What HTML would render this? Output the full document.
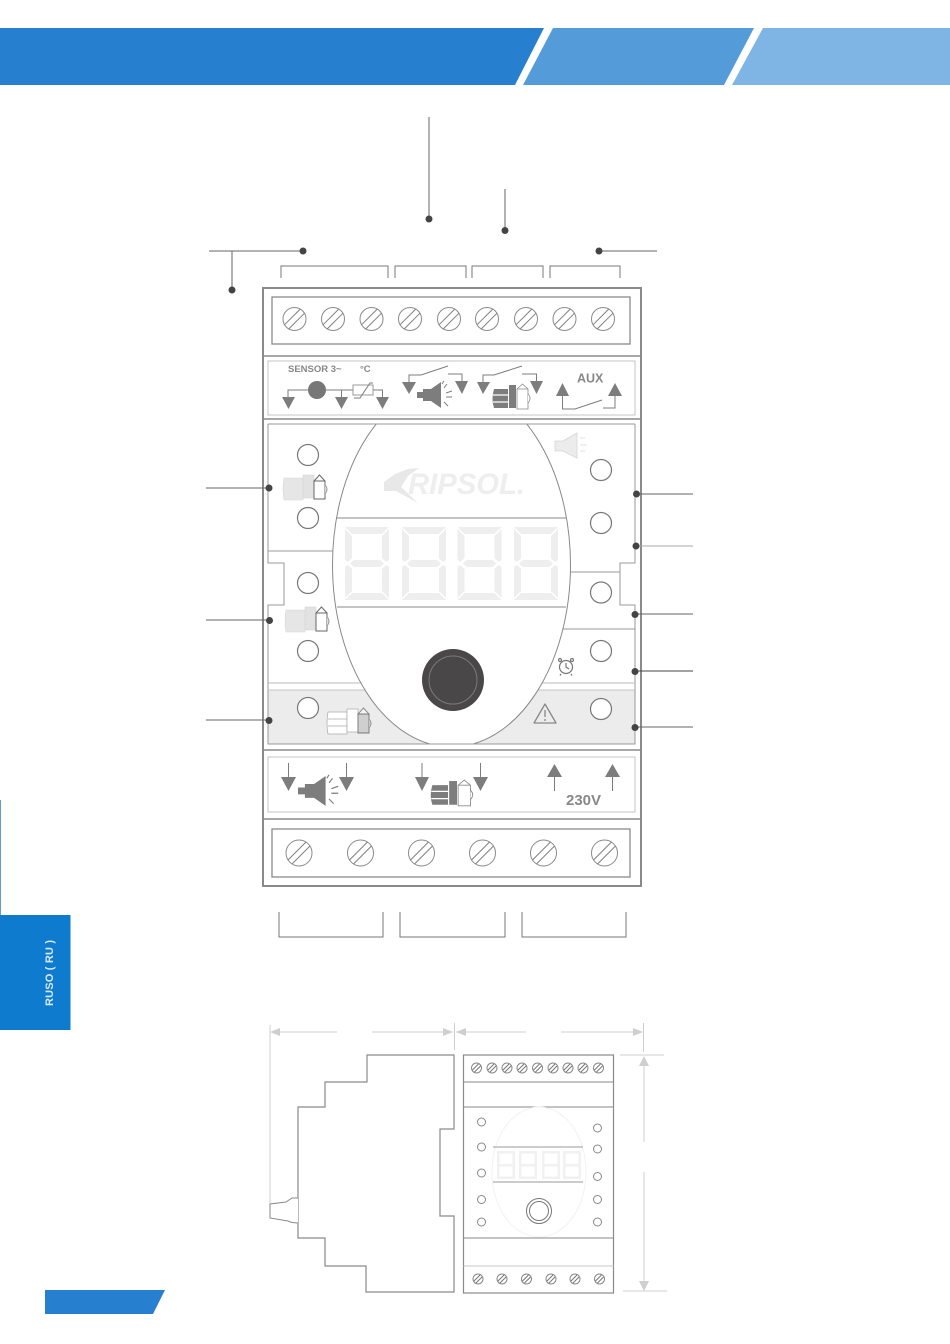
<!DOCTYPE html>
<html>
<head>
<meta charset="utf-8">
<style>
html,body{margin:0;padding:0;background:#fff;}
svg{display:block;}
text{font-family:"Liberation Sans",sans-serif;}
</style>
</head>
<body>
<svg width="950" height="1344" viewBox="0 0 950 1344" xmlns="http://www.w3.org/2000/svg">
<defs>
  <g id="screw">
    <circle r="11.5" fill="#fff" stroke="#8a8a8a" stroke-width="1"/>
    <path d="M-9.900,5.700 L5.700,-9.900 M-5.700,9.900 L9.900,-5.700" stroke="#808080" stroke-width="1" fill="none"/>
  </g>
  <g id="screwL">
    <circle r="13" fill="#fff" stroke="#8a8a8a" stroke-width="1"/>
    <path d="M-11,7 L7,-11 M-7,11 L11,-7" stroke="#808080" stroke-width="1" fill="none"/>
  </g>
  <g id="screwS">
    <circle r="5" fill="#fff" stroke="#888" stroke-width="1"/>
    <path d="M-4,2 L2,-4 M-2,4 L4,-2" stroke="#777" stroke-width="1" fill="none"/>
  </g>
  <g id="digit" fill="#eeeeee">
    <polygon points="0,0 44,0 37,7 7,7"/>
    <polygon points="0,2 7,9 7,31 3,35 0,33"/>
    <polygon points="44,2 37,9 37,31 41,35 44,33"/>
    <polygon points="5,36.5 9,33 35,33 39,36.5 35,40 9,40"/>
    <polygon points="0,40 3,38 7,42 7,64 0,71"/>
    <polygon points="44,40 41,38 37,42 37,64 44,71"/>
    <polygon points="7,66 37,66 44,73 0,73"/>
  </g>
  <g id="digitS" fill="#f1f1f1">
    <rect x="0" y="0" width="18" height="2.5"/><rect x="0" y="0" width="2.5" height="28"/><rect x="15.5" y="0" width="2.5" height="28"/><rect x="0" y="13" width="18" height="2.5"/><rect x="0" y="25.5" width="18" height="2.5"/>
  </g>
  <g id="speaker">
    <path d="M0,10 h6 v-3 h8 l10,-7 v26 l-10,-7 h-8 v-3 h-6 z" fill="#7d7d7d"/>
    <path d="M27,6 l3,-4 M29,11 l6,-2 M29,15 h6 M27,20 l4,4 M25,2 l2,-3" stroke="#7d7d7d" stroke-width="1" fill="none"/>
  </g>
  <g id="pumpD">
    <path d="M3,6 h14 v19 h-14 q-3,-9 0,-19z" fill="#7d7d7d"/>
    <path d="M2,12 h15 M2,19 h15" stroke="#fff" stroke-width="1.2"/>
    <rect x="18" y="2" width="7" height="23" fill="#7d7d7d"/>
    <path d="M26,6 v20 h11 v-20 l-5.500,-5 z M26,6 h11" fill="#fff" stroke="#8a8a8a" stroke-width="0.8"/>
    <path d="M37,11 q4,4 0,9" fill="#fff" stroke="#8a8a8a" stroke-width="0.8"/>
  </g>
  <g id="pumpL">
    <path d="M1,5 h19 v22 h-19 q-2,-11 0,-22z" fill="#e6e6e6" stroke="#d8d8d8" stroke-width="0.6"/>
    <rect x="20" y="2" width="11" height="23" fill="#e2e2e2" stroke="#d8d8d8" stroke-width="0.6"/>
    <path d="M31,8 v18 h11 v-18 l-5.500,-6 z M31,8 h11" fill="#fff" stroke="#666" stroke-width="1"/>
    <path d="M42,12 q4,4 0,9" fill="#ddd" stroke="#888" stroke-width="0.8"/>
  </g>
  <g id="pumpW">
    <path d="M1,5 h19 v22 h-19 q-2,-11 0,-22z M1,12 h19 M1,19 h19" fill="#fff" stroke="#aaa" stroke-width="0.7"/>
    <rect x="20" y="2" width="11" height="23" fill="#fff" stroke="#aaa" stroke-width="0.7"/>
    <path d="M31,7 v19 h11 v-19" fill="#cfcfcf" stroke="#777" stroke-width="0.9"/>
    <path d="M31,7 l5.500,-6 l5.500,6 z" fill="#f4f4f4" stroke="#777" stroke-width="0.9"/>
    <path d="M42,12 q4,4 0,9" fill="#ccc" stroke="#888" stroke-width="0.8"/>
  </g>
</defs>

<!-- header -->
<polygon points="0,28 544,28 515,85 0,85" fill="#2680cf"/>
<polygon points="553,28 754,28 724,85 523,85" fill="#549bd9"/>
<polygon points="763,28 950,28 950,85 732,85" fill="#7fb5e4"/>

<!-- side tab -->
<rect x="0" y="800" width="1" height="115" fill="#5c9ed8"/>
<rect x="0" y="915" width="70.500" height="115" fill="#0f7bcf"/>
<text transform="translate(53,1006) rotate(-90)" font-size="11" font-weight="bold" fill="#d5e8f8" textLength="66">RUSO ( RU )</text>
<polygon points="45,1290 165,1290 153,1314 45,1314" fill="#2680cf"/>

<!-- main box -->
<rect x="263" y="288" width="378" height="598" fill="#fff" stroke="#8a8a8a" stroke-width="2"/>
<rect x="272" y="297" width="358" height="47" fill="#fff" stroke="#8a8a8a" stroke-width="1.300"/>
<g>
<use href="#screw" x="294.500" y="319"/><use href="#screw" x="333" y="319"/><use href="#screw" x="371.500" y="319"/><use href="#screw" x="410" y="319"/><use href="#screw" x="449" y="319"/><use href="#screw" x="487" y="319"/><use href="#screw" x="526" y="319"/><use href="#screw" x="564.500" y="319"/><use href="#screw" x="603" y="319"/>
</g>
<path d="M263,356 H641 M263,419 H641 M263,750 H641 M263,819 H640" stroke="#8a8a8a" stroke-width="1.500" fill="none"/>
<rect x="268" y="361" width="367" height="54" fill="none" stroke="#c4c4c4" stroke-width="1"/>
<rect x="268" y="757" width="367" height="55" fill="none" stroke="#c4c4c4" stroke-width="1"/>

<!-- upper panel symbols -->
<text x="288" y="372" font-size="9.500" font-weight="bold" fill="#888">SENSOR 3~</text>
<text x="360" y="372" font-size="9.500" font-weight="bold" fill="#888">°C</text>
<g stroke="#7d7d7d" stroke-width="1" fill="none">
  <path d="M288,397 V390 H353 M373,390 H382.500 V397 M341.500,390 V397"/>
  <rect x="353" y="385" width="20" height="10" stroke="#999"/>
  <path d="M354,398 H360 L370,383 H373"/>
  <path d="M409,382 V375 H421 L448,366 M448,374 H462 V381"/>
  <path d="M483,382 V375 H494 L522,366 M522,374 H536.500 V381"/>
  <path d="M562.500,396 V409 H575 L602,400 M603,408 H615 V396"/>
</g>
<circle cx="317" cy="390" r="9" fill="#777"/>
<g fill="#7d7d7d">
  <polygon points="282,397 295,397 288.500,409"/>
  <polygon points="335,397 348,397 341.500,409"/>
  <polygon points="376,397 389,397 382.500,409"/>
  <polygon points="402,382 416,382 409,394"/>
  <polygon points="455,381 468,381 462,394"/>
  <polygon points="477,382 490,382 483,394"/>
  <polygon points="530,381 543,381 536.500,394"/>
  <polygon points="556,396 569,396 562.500,383"/>
  <polygon points="608,396 622,396 615,383"/>
</g>
<use href="#speaker" x="417" y="382"/>
<use href="#pumpD" x="491" y="383"/>
<text x="577" y="382.500" font-size="12.500" font-weight="bold" fill="#888">AUX</text>

<!-- main panel -->
<rect x="268" y="690" width="367" height="54" fill="#ececec"/>
<path d="M268,424 H635 M268,424 V563 H284 V605 H268 V744 H635 V605 H620 V563 H635 V424" fill="none" stroke="#999" stroke-width="1"/>
<path d="M268,551 H335 M570,572 H620 M563,629 H635" stroke="#999" stroke-width="1" fill="none"/>
<path d="M268,683 H361 M542,683 H635" stroke="#bbb" stroke-width="1" fill="none"/>
<path d="M268,690 H365 M538,690 H635" stroke="#c4c4c4" stroke-width="1" fill="none"/>
<clipPath id="panelClip"><rect x="268" y="424.500" width="367" height="319"/></clipPath>
<ellipse cx="451.500" cy="565" rx="119" ry="182" fill="#fff" stroke="#8a8a8a" stroke-width="1" clip-path="url(#panelClip)"/>
<path d="M336,518 H566 M337,607 H566" stroke="#8a8a8a" stroke-width="1" fill="none"/>
<text x="408" y="494" font-size="30" font-weight="bold" font-style="italic" fill="#eeeeee" textLength="117" lengthAdjust="spacingAndGlyphs">RIPSOL.</text>
<path d="M384,482 L395,474 L408,469 L419,468 L408,476 L401,487 L418,503 L396,491 L384,491 Z" fill="#e8e8e8"/>
<use href="#digit" x="345" y="527"/><use href="#digit" x="402" y="527"/><use href="#digit" x="457.500" y="527"/><use href="#digit" x="514" y="527"/>
<circle cx="453" cy="680" r="31" fill="#4a4748"/>
<circle cx="453" cy="680" r="24" fill="none" stroke="#7a7a7a" stroke-width="1"/>

<g fill="#fff" stroke="#777" stroke-width="1.200">
  <circle cx="308" cy="455" r="10.500"/><circle cx="308" cy="518" r="10.500"/><circle cx="308" cy="583" r="10.500"/><circle cx="308" cy="651" r="10.500"/><circle cx="308" cy="708" r="10.500"/>
  <circle cx="601" cy="470" r="10.500"/><circle cx="601" cy="523" r="10.500"/><circle cx="601" cy="592.500" r="10.500"/><circle cx="601" cy="651" r="10.500"/><circle cx="601" cy="709" r="10.500"/>
</g>
<use href="#pumpL" x="283" y="473"/>
<use href="#pumpL" x="285" y="605"/>
<use href="#pumpW" x="327" y="707"/>
<!-- faint speaker -->
<g stroke="#d6d6d6" stroke-width="0.800" fill="#ececec">
  <path d="M555,441 h8 l14,-8 v25 l-14,-7 h-8 z"/>
  <path d="M580,438 h5 M580,445 h7 M580,451 h5" fill="none"/>
</g>
<!-- clock -->
<g stroke="#777" stroke-width="1.200" fill="none">
  <circle cx="566" cy="667" r="6.500"/>
  <path d="M566,663 V667 L569,669"/>
  <circle cx="560" cy="660" r="1.500"/><circle cx="572" cy="660" r="1.500"/>
  <path d="M561,674 l-1,1.500 M571,674 l1,1.500"/>
</g>
<!-- warning -->
<path d="M545,704 L556,723 H534 Z" fill="none" stroke="#888" stroke-width="1.300" stroke-linejoin="round"/>
<path d="M545,710 V717 M545,719 V721" stroke="#888" stroke-width="1.300"/>

<!-- lower panel symbols -->
<g stroke="#7d7d7d" stroke-width="1" fill="none">
  <path d="M288.500,763 V778 M346.500,763 V778 M422,763 V778 M480.500,763 V778 M554.500,776 V791 M612.500,776 V791"/>
</g>
<g fill="#7d7d7d">
  <polygon points="281,777 296,777 288.500,791"/>
  <polygon points="339,777 354,777 346.500,791"/>
  <polygon points="415,777 429,777 422,791"/>
  <polygon points="473,777 488,777 480.500,791"/>
  <polygon points="547,777 562,777 554.500,764"/>
  <polygon points="605,777 620,777 612.500,764"/>
</g>
<use href="#speaker" transform="translate(298,776) scale(1.150)"/>
<use href="#pumpD" transform="translate(429,779) scale(1.120,1.030)"/>
<text x="566" y="805" font-size="15" font-weight="bold" fill="#888">230V</text>

<rect x="272" y="829" width="358" height="48" fill="#fff" stroke="#8a8a8a" stroke-width="1.300"/>
<use href="#screwL" x="299" y="853"/><use href="#screwL" x="360.500" y="853"/><use href="#screwL" x="421.500" y="853"/><use href="#screwL" x="482.500" y="853"/><use href="#screwL" x="543.500" y="853"/><use href="#screwL" x="604.500" y="853"/>

<!-- brackets -->
<g fill="none" stroke="#777" stroke-width="1">
  <path d="M281,278 V266 H388 V278 M395,278 V266 H466 V278 M472,278 V266 H543 V278 M550,278 V266 H620 V278"/>
  <path d="M279,912 V937 H383 V912 M400,912 V937 H505 V912 M522,912 V937 H626 V912"/>
</g>

<!-- leaders -->
<g fill="none" stroke="#666" stroke-width="1">
  <path d="M429,117 V219 M505,189 V230 M209,251 H303 M232,251 V290 M599,251 H657"/>
  <path d="M206,488 H269 M206,620 H269 M206,720 H269"/>
  <path d="M636,494 H693 M635,614 H693 M635,727 H693"/>
  <path d="M636,546 H693" stroke="#aaa"/>
  <path d="M635,671 H693" stroke="#444"/>
</g>
<g fill="#444">
  <circle cx="429" cy="219" r="3.500"/><circle cx="505" cy="230.500" r="3.500"/><circle cx="303" cy="251" r="3.500"/><circle cx="232" cy="290" r="3.500"/><circle cx="599" cy="251" r="3.500"/>
  <circle cx="269" cy="488" r="3.500"/><circle cx="269.500" cy="620.500" r="3.500"/><circle cx="269" cy="720.500" r="3.500"/>
  <circle cx="636.500" cy="494" r="3.500"/><circle cx="636" cy="546" r="3.500"/><circle cx="635" cy="614.500" r="3.500"/><circle cx="635" cy="671.500" r="3.500"/><circle cx="635" cy="727.500" r="3.500"/>
</g>

<!-- dimension lines -->
<g fill="none" stroke="#cfcfcf" stroke-width="1">
  <path d="M270,1025 V1203 M454.500,1023 V1050 M643.500,1023 V1052"/>
  <path d="M272,1032 H337 M372,1032 H453 M456,1032 H526 M561,1032 H642"/>
  <path d="M644,1057 V1142 M644,1172 V1289"/>
  <path d="M620,1055 H664 M623,1291 H667"/>
</g>
<g fill="#cfcfcf">
  <polygon points="270,1032 280,1028 280,1036"/>
  <polygon points="453,1032 443,1028 443,1036"/>
  <polygon points="456,1032 466,1028 466,1036"/>
  <polygon points="643,1032 633,1028 633,1036"/>
  <polygon points="644,1056 639,1066 649,1066"/>
  <polygon points="644,1291 639,1281 649,1281"/>
</g>

<!-- side view -->
<path d="M367,1055 H454 V1129 H440 V1216 H454 V1292 H366 V1266 H325 V1238 H298 V1107 H325 V1082 H367 Z" fill="#fff" stroke="#8a8a8a" stroke-width="1.200"/>
<path d="M298,1198 H292 L286,1202 L270,1204 V1218 L288,1221 L292,1222.500 L298,1223" fill="#fff" stroke="#8a8a8a" stroke-width="1"/>

<!-- front view -->
<rect x="463.500" y="1055" width="150" height="238" fill="#fff" stroke="#8a8a8a" stroke-width="1.200"/>
<path d="M463.500,1082 H613.500 M463.500,1107 H613.500 M463.500,1238 H613.500" stroke="#8a8a8a" stroke-width="1" fill="none"/>
<path d="M463.500,1266 H613.500" stroke="#c8c8c8" stroke-width="1" fill="none"/>
<ellipse cx="539" cy="1172" rx="47" ry="65" fill="none" stroke="#f2f2f2" stroke-width="1"/>
<path d="M493,1147 H583 M493,1182 H583" stroke="#999" stroke-width="1" fill="none"/>
<use href="#digitS" x="497" y="1151"/><use href="#digitS" x="519" y="1151"/><use href="#digitS" x="542" y="1151"/><use href="#digitS" x="563" y="1151"/>
<circle cx="539" cy="1211" r="12.500" fill="#fff" stroke="#777" stroke-width="1"/>
<circle cx="539" cy="1211" r="9.500" fill="#fff" stroke="#777" stroke-width="1"/>
<g fill="#fff" stroke="#888" stroke-width="1">
  <circle cx="481.500" cy="1122" r="4"/><circle cx="481.500" cy="1147" r="4"/><circle cx="481.500" cy="1173" r="4"/><circle cx="481.500" cy="1199.500" r="4"/><circle cx="481.500" cy="1222" r="4"/>
  <circle cx="597.500" cy="1128" r="4"/><circle cx="597.500" cy="1149" r="4"/><circle cx="597.500" cy="1176.500" r="4"/><circle cx="597.500" cy="1199.500" r="4"/><circle cx="597.500" cy="1222" r="4"/>
</g>
<use href="#screwS" x="476.500" y="1068"/><use href="#screwS" x="492" y="1068"/><use href="#screwS" x="507" y="1068"/><use href="#screwS" x="522" y="1068"/><use href="#screwS" x="537.500" y="1068"/><use href="#screwS" x="553" y="1068"/><use href="#screwS" x="568" y="1068"/><use href="#screwS" x="583" y="1068"/><use href="#screwS" x="598.500" y="1068"/>
<use href="#screwS" x="478" y="1279"/><use href="#screwS" x="502" y="1279"/><use href="#screwS" x="526.500" y="1279"/><use href="#screwS" x="551" y="1279"/><use href="#screwS" x="575" y="1279"/><use href="#screwS" x="599.500" y="1279"/>
</svg>
</body>
</html>
